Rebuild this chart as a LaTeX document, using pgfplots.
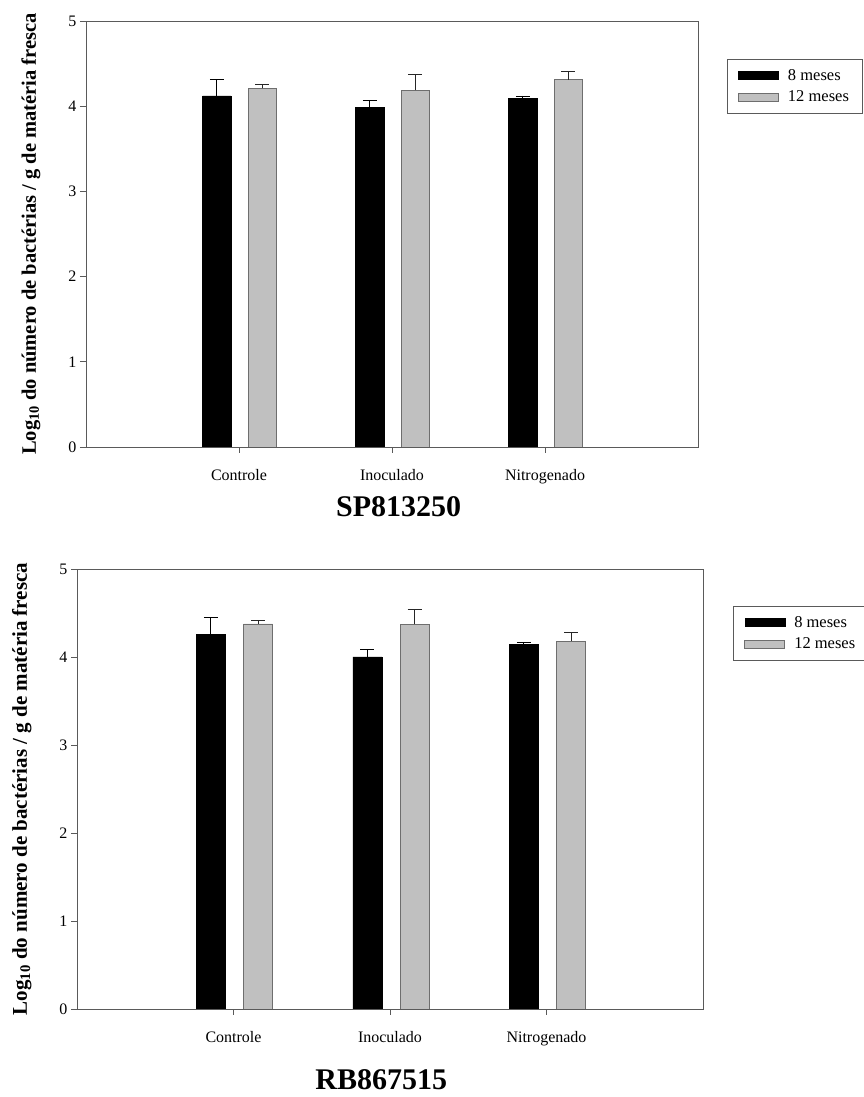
\documentclass[border=0pt]{standalone}
\usepackage{fontspec}
\setmainfont{Liberation Serif}
\usepackage{pgfplots}
\pgfplotsset{compat=1.18}
\definecolor{axgray}{RGB}{90,90,90}
\definecolor{barfill}{RGB}{192,192,192}
\definecolor{baredge}{RGB}{110,110,110}
\pgfplotsset{
  common/.style={
    scale only axis,
    ybar, bar shift=0pt, bar width=0.185,
    xmin=0, xmax=4, ymin=0, ymax=5,
    enlargelimits=false,
    xtick={1,2,3},
    xticklabels={Controle,Inoculado,Nitrogenado},
    ytick={0,1,2,3,4,5},
    tick align=outside,
    xtick pos=bottom, ytick pos=left,
    major tick length=6pt,
    tick style={axgray, line width=0.7pt},
    axis line style={axgray, line width=0.8pt},
    /pgf/number format/assume math mode=true,
    tick label style={font=\fontsize{16}{19}\selectfont},
    xticklabel style={yshift=-13pt},
    ylabel={\textbf{Log\textsubscript{10} do número de bactérias / g de matéria fresca}},
    legend cell align=left,
    legend image code/.code={\draw[#1] (0pt,-4pt) rectangle (40pt,4pt); \path (47pt,0pt);},
    legend style={draw=axgray, line width=0.8pt, font=\fontsize{16.5}{19}\selectfont,
      inner xsep=11pt, inner ysep=8pt, row sep=5pt, anchor=north west},
  },
  blackbar/.style={fill=black, draw=black, line width=0.5pt,
    error bars/.cd, y dir=plus, y explicit,
    error bar style={black, line width=0.8pt},
    error mark options={rotate=90, mark size=7pt, black, line width=0.8pt}},
  graybar/.style={fill=barfill, draw=baredge, line width=0.8pt,
    error bars/.cd, y dir=plus, y explicit,
    error bar style={black!85, line width=0.8pt},
    error mark options={rotate=90, mark size=7pt, black!85, line width=0.8pt}},
}
\begin{document}
\begin{tikzpicture}
\useasboundingbox (0pt,0pt) rectangle (864pt,1097pt);
% top panel
\begin{axis}[common,
  at={(86pt,650pt)}, anchor=south west,
  width=612pt, height=426pt,
  ylabel style={at={(axis description cs:-0.090,0.5)}, anchor=center, font=\fontsize{20.5}{23}\selectfont},
  xlabel={\textbf{SP813250}},
  xlabel style={at={(axis description cs:0.511,-0.141)}, anchor=center, font=\fontsize{30}{34}\selectfont},
  legend style={at={(axis description cs:1.047,0.911)}},
]
\addplot[blackbar] coordinates {(0.855,4.12) +- (0,0.19) (1.855,3.99) +- (0,0.08) (2.855,4.09) +- (0,0.03)};
\addlegendentry{8 meses}
\addplot[graybar] coordinates {(1.153,4.21) +- (0,0.05) (2.153,4.19) +- (0,0.18) (3.153,4.31) +- (0,0.10)};
\addlegendentry{12 meses}
\end{axis}
% bottom panel
\begin{axis}[common,
  at={(77pt,88pt)}, anchor=south west,
  width=626pt, height=440pt,
  ylabel style={at={(axis description cs:-0.088,0.5)}, anchor=center, font=\fontsize{21}{24}\selectfont},
  xlabel={\textbf{RB867515}},
  xlabel style={at={(axis description cs:0.486,-0.160)}, anchor=center, font=\fontsize{30}{34}\selectfont},
  legend style={at={(axis description cs:1.048,0.916)}},
]
\addplot[blackbar] coordinates {(0.855,4.26) +- (0,0.19) (1.855,4.00) +- (0,0.09) (2.855,4.14) +- (0,0.03)};
\addlegendentry{8 meses}
\addplot[graybar] coordinates {(1.157,4.375) +- (0,0.04) (2.157,4.37) +- (0,0.17) (3.157,4.18) +- (0,0.10)};
\addlegendentry{12 meses}
\end{axis}
\end{tikzpicture}
\end{document}
